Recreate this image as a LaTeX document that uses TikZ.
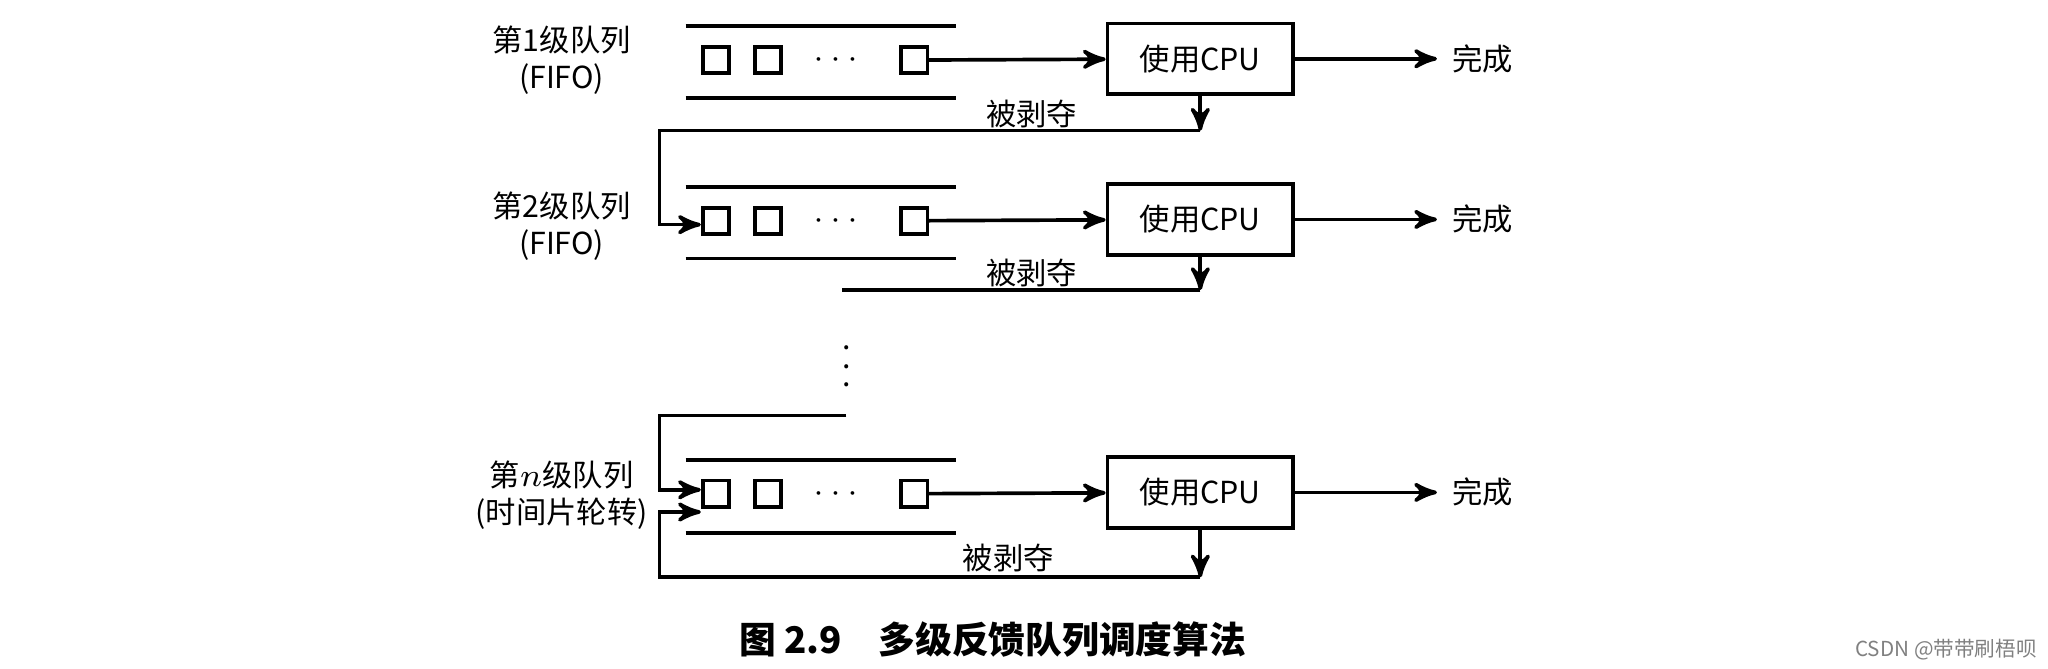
\documentclass[tikz,border=0pt]{standalone}
\usepackage{fontspec}
\setmainfont{Liberation Serif}
\newfontfamily\cjk{Noto Sans CJK SC}
\usetikzlibrary{arrows}

\begin{document}
\begin{tikzpicture}[x=0.01cm,y=-0.01cm,>=stealth',semithick,
                    every node/.style={font=\cjk\fontsize{6.6}{8}\selectfont,inner sep=0pt}]
\tikzstyle{job}=[draw,thick,minimum size=0.2cm]
\tikzstyle{cpu}=[draw,thick,minimum width=1.42cm,minimum height=0.54cm]
\tikzstyle{done}=[inner sep=3pt]
\tikzstyle{wall}=[thick,-]
\useasboundingbox (0,0) rectangle (1568,512);

% level 1
\draw[wall] (525,20) -- (732,20) (525,75) -- (732,75);
\node [job] (a1) at (548,46) {};
\node [job] (b1) at (588,46) {};
\node (d1) at (640,46) {$\cdots$};
\node [job] (c1) at (700,46) {};
\node [cpu] (cpu1) at (919,45) {使用CPU};
\node [done] (f1) at (1135,45) {完成};
\node (l1) at (430,48) {\begin{tabular}{c}第1级队列\\(FIFO)\end{tabular}};
\node (p1) at (790,87) {被剥夺};

% level 2
\draw[wall] (525,143) -- (732,143) (525,198) -- (732,198);
\node [job] (a2) at (548,169) {};
\node [job] (b2) at (588,169) {};
\node (d2) at (640,169) {$\cdots$};
\node [job] (c2) at (700,169) {};
\node [cpu] (cpu2) at (919,168) {使用CPU};
\node [done] (f2) at (1135,168) {完成};
\node (l2) at (430,175) {\begin{tabular}{c}第2级队列\\(FIFO)\end{tabular}};
\node (p2) at (790,209) {被剥夺};

\node (vd) at (648,270) {$\vdots$};

% level n
\draw[wall] (525,352) -- (732,352) (525,408) -- (732,408);
\node [job] (an) at (548,378) {};
\node [job] (bn) at (588,378) {};
\node (dn) at (640,378) {$\cdots$};
\node [job] (cn) at (700,378) {};
\node [cpu] (cpun) at (919,377) {使用CPU};
\node [done] (fn) at (1135,377) {完成};
\node (ln) at (430,381) {\begin{tabular}{c}第$n$级队列\\(时间片轮转)\end{tabular}};
\node (pn) at (772,427) {被剥夺};

\coordinate (r1) at (919,100);
\coordinate (r2) at (919,222);
\coordinate (rn) at (919,442);
\coordinate (top) at (648,318);

\path[->,thick] (c1) edge (cpu1) (cpu1) edge (f1)
                (c2) edge (cpu2) (cpu2) edge (f2)
                (cn) edge (cpun) (cpun) edge (fn);
\draw[->,thick] (cpu1) -- (r1);
\draw[->,thick] (r1) -- (505,100) -- (505,172) -- (a2.west|-0,172);
\draw[->,thick] (cpu2) -- (r2);
\draw[thick] (r2) -- (645,222);
\draw[->,thick] (top) -- (505,318) -- (505,375) -- (an.west|-0,375);
\draw[->,thick] (cpun) -- (rn);
\draw[->,thick] (rn) -- (505,442) -- (505,392) -- (an.west|-0,392);

\node (cap) at (760,490) {\fontsize{8}{10}\selectfont\bfseries 图 2.9\quad 多级反馈队列调度算法};
\node [text=gray,font=\cjk\fontsize{4.5}{6}\selectfont] (mark) at (1490,497) {CSDN @带带刷梧呗};
\end{tikzpicture}
\end{document}
